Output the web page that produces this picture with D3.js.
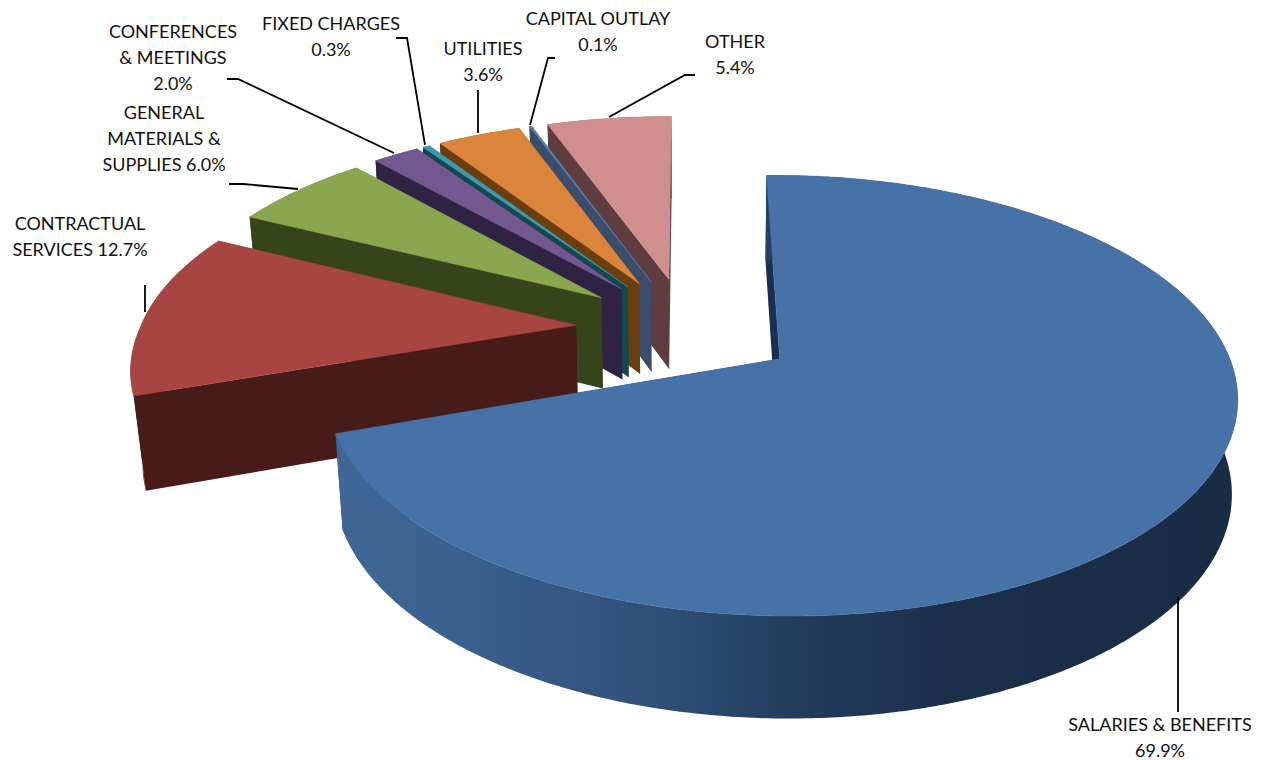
<!DOCTYPE html>
<html>
<head>
<meta charset="utf-8">
<script src="https://cdn.jsdelivr.net/npm/d3@7/dist/d3.min.js"></script>
<style>
  html, body { margin: 0; padding: 0; background: #fff; }
  svg { display: block; }
  text { font-family: Lato, "Open Sans", sans-serif; font-size: 18px; fill: #111; text-anchor: middle; }
</style>
</head>
<body>
<svg id="chart" width="1265" height="760"></svg>
<script>
// Budget shares, in clockwise order from twelve o'clock
const categories = ["SALARIES & BENEFITS", "CONTRACTUAL SERVICES", "GENERAL MATERIALS & SUPPLIES",
  "CONFERENCES & MEETINGS", "FIXED CHARGES", "UTILITIES", "CAPITAL OUTLAY", "OTHER"];
const shares = [69.9, 12.7, 6.0, 2.0, 0.3, 3.6, 0.1, 5.4];

// Surface and side colours of each wedge
const topColors = ["#4672a8", "#a64542", "#8aa64f", "#72588f", "#3f9ab0", "#db843c", "#5b7fb0", "#cf8f8e"];
const wallColors = ["#1a3050", "#461b18", "#36441c", "#2f2344", "#15474f", "#6b3e10", "#3b4d68", "#5d3d3f"];

// Label text lines with their centre, first baseline and leader polyline
const labelLines = [
  ["SALARIES & BENEFITS", "69.9%"],
  ["CONTRACTUAL", "SERVICES 12.7%"],
  ["GENERAL", "MATERIALS &", "SUPPLIES 6.0%"],
  ["CONFERENCES", "& MEETINGS", "2.0%"],
  ["FIXED CHARGES", "0.3%"],
  ["UTILITIES", "3.6%"],
  ["CAPITAL OUTLAY", "0.1%"],
  ["OTHER", "5.4%"]
];
const labelAnchors = [[1160, 731], [80, 230], [164, 119], [173, 38], [331, 30], [483, 55], [598, 25], [735, 48]];
const leaders = [
  [[1178, 597], [1178, 712]],
  [[145, 312], [145, 285]],
  [[298, 189], [243, 184], [229, 184]],
  [[394, 153], [238, 79], [227, 79]],
  [[425, 145], [407, 38], [396, 38]],
  [[478, 133], [478, 90]],
  [[530, 125], [548, 58], [555, 58]],
  [[609, 117], [685, 75], [695, 75]]
];

// Perspective of the tilted pie: disc coordinates plus a depth of 0 (top) to 1 (bottom)
const explode = 0.255, perspective = 0.163;
const depthShrinkX = 0.0157, depthShrinkY = 0.03, depthSkew = 0.3;
const rollPx = -3.5, backLeftTurn = 0.2 * Math.PI / 180, backLeftBulge = 0.014;
const scaleX = d3.scaleLinear().domain([0, 1]).range([687, 687 + 437.7]);
const scaleY = d3.scaleLinear().domain([0, 1]).range([328.4, 328.4 + 204]);
const depthPx = 95;

function project(slice, rawAngle, rawRadius, z) {
  const mid = (slice.startAngle + slice.endAngle) / 2;
  // The back-left quadrant of the disc widens a little under the oblique view
  const fromTop = 2 * Math.PI - rawAngle;
  const warp = fromTop > 0 && fromTop < Math.PI / 2 ? Math.sin(2 * fromTop) : 0;
  const angle = rawAngle - backLeftTurn * warp;
  const radius = rawRadius * (1 + backLeftBulge * warp);
  const u = radius * Math.sin(angle) + explode * Math.sin(mid);
  const v = -radius * Math.cos(angle) - explode * Math.cos(mid);
  const base = 1 - perspective * v;
  const wx = base + depthShrinkX * z * (1 - depthSkew * u);
  const wy = base + depthShrinkY * z;
  return [scaleX(u / wx), scaleY(v / wy) + (depthPx * z + rollPx * u) / wy];
}

const pie = d3.pie().sort(null).value(d => d);
const slices = pie(shares);
const line = d3.line();

function arcPoints(s, z, from = s.startAngle, to = s.endAngle) {
  const n = Math.max(2, Math.ceil((to - from) / 0.01));
  return d3.range(n + 1).map(i => project(s, from + (to - from) * i / n, 1, z));
}

const svg = d3.select("#chart");

// Horizontal shading along the curved side of the large wedge
const grad = svg.append("defs").append("linearGradient")
  .attr("id", "frontWall").attr("gradientUnits", "userSpaceOnUse")
  .attr("x1", 340).attr("x2", 1235).attr("y1", 0).attr("y2", 0);
[[0, "#3f6795"], [0.12, "#3b618f"], [0.36, "#2f4f78"], [0.5, "#233d5e"], [0.68, "#1b2f4b"], [1, "#1a2c44"]]
  .forEach(([o, c]) => grad.append("stop").attr("offset", o).attr("stop-color", c));

// Painted back to front, so each wedge overlaps the one before it
const order = d3.range(slices.length).reverse();
const groups = svg.selectAll("g.wedge").data(order.map(i => ({ s: slices[i], i })))
  .join("g").attr("class", "wedge");

groups.each(function ({ s, i }) {
  const g = d3.select(this);
  const wallFill = i === 0 ? "url(#frontWall)" : wallColors[i];
  const radial = a => [project(s, a, 0, 0), project(s, a, 1, 0), project(s, a, 1, 1), project(s, a, 0, 1)];
  // Hidden far side, curved side, near radial side
  g.append("path").attr("d", line(radial(s.endAngle)) + "Z").attr("fill", wallColors[i]);
  g.append("path").attr("d", line(radial(s.startAngle)) + "Z").attr("fill", wallColors[i]);
  g.append("path")
    .attr("d", line(arcPoints(s, 0).concat(arcPoints(s, 1).reverse())) + "Z")
    .attr("fill", wallFill);
  // Top surface
  g.append("path")
    .attr("d", line([project(s, 0, 0, 0)].concat(arcPoints(s, 0))) + "Z")
    .attr("fill", topColors[i])
    .attr("stroke", topColors[i])
    .attr("stroke-width", 0.5);
});

// Leader lines
svg.append("g").selectAll("path").data(leaders).join("path")
  .attr("d", d => line(d)).attr("fill", "none").attr("stroke", "#000").attr("stroke-width", 1.8);

// Labels
svg.append("g").selectAll("text").data(categories).join("text")
  .attr("x", (d, i) => labelAnchors[i][0])
  .attr("y", (d, i) => labelAnchors[i][1])
  .each(function (d, i) {
    d3.select(this).selectAll("tspan").data(labelLines[i]).join("tspan")
      .attr("x", labelAnchors[i][0])
      .attr("dy", (t, k) => k === 0 ? 0 : 26)
      .text(t => t);
  });
</script>
</body>
</html>
